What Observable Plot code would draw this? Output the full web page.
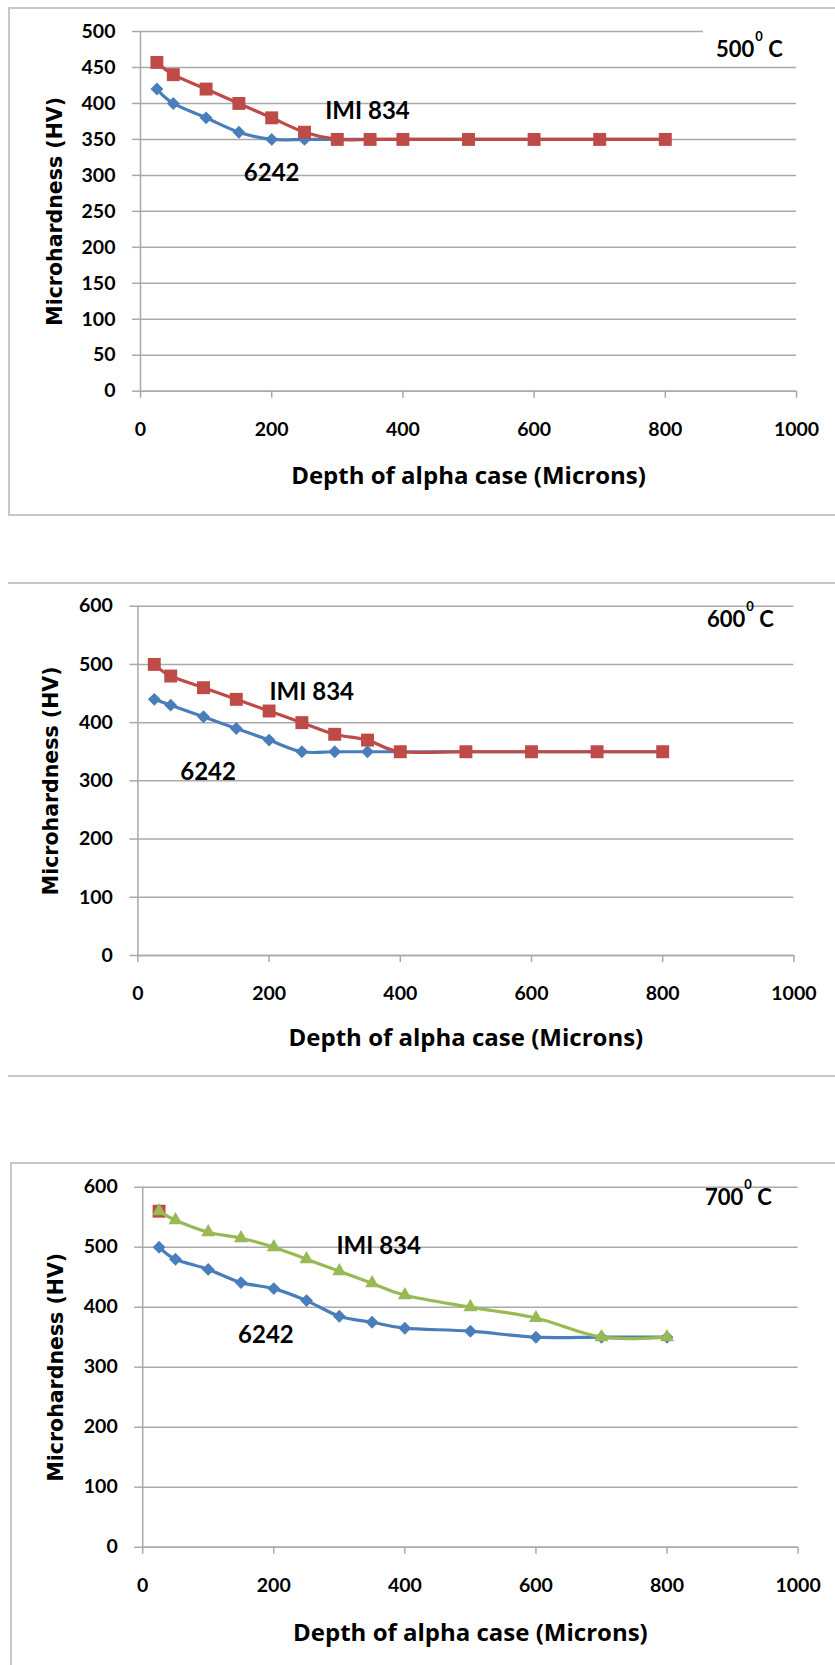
<!DOCTYPE html>
<html><head><meta charset="utf-8">
<script src="https://cdn.jsdelivr.net/npm/d3@7"></script>
<script src="https://cdn.jsdelivr.net/npm/@observablehq/plot@0.6"></script>
<style>
html,body{margin:0;padding:0;background:#fff;overflow:hidden;}
#page{position:relative;width:835px;height:1665px;overflow:hidden;background:#fff;}
.abs{position:absolute;}
.temp{position:absolute;font-family:Lato,"Open Sans",sans-serif;font-weight:bold;font-size:22px;line-height:22px;color:#000;white-space:nowrap;z-index:3;}
.temp sup{font-size:13px;vertical-align:baseline;position:relative;top:-16px;margin-left:1px;}
</style></head><body><div id="page"></div>
<script>
// ---------- data ----------
const depth = [25, 50, 100, 150, 200, 250, 300, 350, 400, 500, 600, 700, 800];
const hv500_6242   = [420, 400, 380, 360, 350, 350, 350, 350, 350, 350, 350, 350, 350];
const hv500_imi834 = [457, 440, 420, 400, 380, 360, 350, 350, 350, 350, 350, 350, 350];
const hv600_6242   = [440, 430, 410, 390, 370, 350, 350, 350, 350, 350, 350, 350, 350];
const hv600_imi834 = [500, 480, 460, 440, 420, 400, 380, 370, 350, 350, 350, 350, 350];
const hv700_6242   = [500, 480, 463, 441, 431, 411, 385, 375, 365, 360, 350, 350, 350];
const hv700_imi834 = [560, 545, 525, 515, 500, 480, 460, 440, 420, 400, 382, 350, 350];
const depth700_red = [25];
const hv700_red    = [560];

const xTicks = [0, 200, 400, 600, 800, 1000];
const yTicks500 = [0, 50, 100, 150, 200, 250, 300, 350, 400, 450, 500];
const yTicks600 = [0, 100, 200, 300, 400, 500, 600];

const seriesNames = ["IMI 834", "6242"];
const tempLabels = ["500", "600", "700"];
const yTitle = "Microhardness (HV)";
const xTitle = "Depth of alpha case (Microns)";

// annotation anchors (data units)
const notes500 = [{label: seriesNames[0], x: 346, y: 389}, {label: seriesNames[1], x: 200, y: 303}];
const notes600 = [{label: seriesNames[0], x: 265, y: 452}, {label: seriesNames[1], x: 107, y: 314}];
const notes700 = [{label: seriesNames[0], x: 360, y: 502}, {label: seriesNames[1], x: 188, y: 353}];

// ---------- styles ----------
const GRID = "#a9a9a9";
const BLUE = "#4a7ebb", RED = "#be4b48", GREEN = "#98b954";
const page = document.getElementById("page");

function rows(xs, ys) { return xs.map((x, i) => ({depth: x, hv: ys[i]})); }

function seriesMarks(data, color, symbol, r) {
  return [
    Plot.line(data, {x: "depth", y: "hv", stroke: color, strokeWidth: 3.2, curve: "cardinal"}),
    Plot.dot(data, {x: "depth", y: "hv", fill: color, symbol, r})
  ];
}

function panel({top, height, frame, yTicks, series, notes, xTitleDy, yTitleDx}) {
  const [fl, fr, ft, fb] = frame;
  const chart = Plot.plot({
    width: 835, height,
    marginLeft: fl, marginRight: 835 - fr, marginTop: ft - top, marginBottom: top + height - fb,
    style: {fontFamily: "Lato, sans-serif", background: "transparent", overflow: "visible"},
    x: {domain: [0, 1000]},
    y: {domain: [0, d3.max(yTicks)]},
    marks: [
      Plot.gridY(yTicks, {stroke: GRID, strokeOpacity: 1, strokeWidth: 1.5}),
      Plot.ruleX([0], {stroke: GRID, strokeWidth: 1.5}),
      Plot.ruleY([0], {stroke: GRID, strokeWidth: 1.5}),
      Plot.axisY(yTicks, {tickSize: 8, tickPadding: 17, stroke: GRID, strokeWidth: 1.5, strokeOpacity: 1,
        fill: "#000", fontSize: 19.5, fontWeight: "bold", fontFamily: "Lato", label: null, tickFormat: d => String(d)}),
      Plot.axisX(xTicks, {tickSize: 7, tickPadding: 24, stroke: GRID, strokeWidth: 1.5, strokeOpacity: 1,
        fill: "#000", fontSize: 19.5, fontWeight: "bold", fontFamily: "Lato", label: null, tickFormat: d => String(d)}),
      ...series,
      Plot.text(notes, {x: "x", y: "y", text: "label", fontSize: 24, fontWeight: "bold", fontFamily: "Lato", fill: "#000"}),
      Plot.text([yTitle], {text: d => d, frameAnchor: "left", dx: yTitleDx, rotate: -90, textAnchor: "middle",
        lineAnchor: "middle", fontFamily: "DejaVu Sans", fontWeight: "bold", fontSize: 20.5, fill: "#000"}),
      Plot.text([xTitle], {text: d => d, frameAnchor: "bottom", dy: xTitleDy, textAnchor: "middle", lineAnchor: "middle",
        fontFamily: "Open Sans", fontWeight: "bold", fontSize: 24, fill: "#000"})
    ]
  });
  chart.style.position = "absolute";
  chart.style.left = "0px";
  chart.style.top = top + "px";
  chart.style.zIndex = 2;
  page.appendChild(chart);
}

function box(css) {
  const d = document.createElement("div");
  d.className = "abs";
  Object.assign(d.style, css);
  page.appendChild(d);
  return d;
}
function temp(text, left, top) {
  const d = document.createElement("div");
  d.className = "temp";
  d.style.left = left + "px";
  d.style.top = top + "px";
  d.innerHTML = text + "<sup>0</sup> C";
  page.appendChild(d);
}

// panel frames / borders
const BORDER = "2px solid #c8c8c8";
box({left: "8px", top: "7px", width: "840px", height: "505px", borderLeft: BORDER, borderTop: BORDER, borderBottom: BORDER, zIndex: 1});
box({left: "8px", top: "582px", width: "840px", height: "491px", borderTop: BORDER, borderBottom: BORDER, zIndex: 1});
box({left: "10px", top: "1162px", width: "840px", height: "600px", borderLeft: BORDER, borderTop: BORDER, zIndex: 1});

panel({
  top: 0, height: 530, frame: [140, 796, 31, 390.7], yTicks: yTicks500,
  series: [...seriesMarks(rows(depth, hv500_6242), BLUE, "diamond2", 5.8),
           ...seriesMarks(rows(depth, hv500_imi834), RED, "square", 7.3)],
  notes: notes500, xTitleDy: 85, yTitleDx: -85
});
panel({
  top: 560, height: 540, frame: [137.4, 793.4, 605.7, 955], yTicks: yTicks600,
  series: [...seriesMarks(rows(depth, hv600_6242), BLUE, "diamond2", 5.8),
           ...seriesMarks(rows(depth, hv600_imi834), RED, "square", 7.3)],
  notes: notes600, xTitleDy: 82.7, yTitleDx: -86
});
panel({
  top: 1150, height: 515, frame: [142.2, 797.6, 1186.7, 1546.7], yTicks: yTicks600,
  series: [...seriesMarks(rows(depth, hv700_6242), BLUE, "diamond2", 5.8),
           ...seriesMarks(rows(depth700_red, hv700_red), RED, "square", 7.3),
           ...seriesMarks(rows(depth, hv700_imi834), GREEN, "triangle", 5.2)],
  notes: notes700, xTitleDy: 86, yTitleDx: -86
});

// temperature labels (panel 1 label sits in a white text box over the top gridline)
box({left: "703px", top: "26px", width: "140px", height: "37px", background: "#fff", zIndex: 3});
temp(tempLabels[0], 716, 38);
temp(tempLabels[1], 707, 608);
temp(tempLabels[2], 705, 1185.5);
</script></body></html>
